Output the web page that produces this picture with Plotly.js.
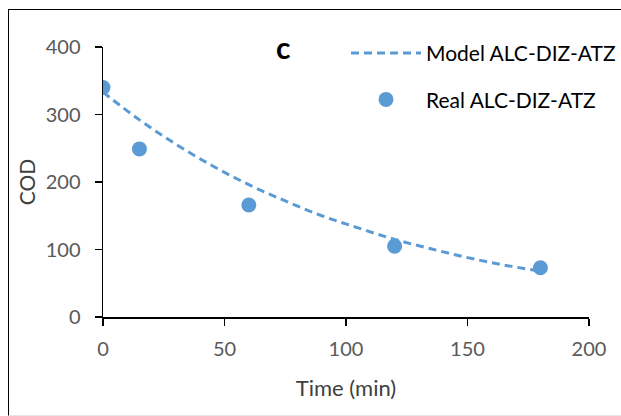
<!DOCTYPE html>
<html><head><meta charset="utf-8">
<script src="https://cdn.plot.ly/plotly-3.0.1.min.js"></script>
<style>body{margin:0;padding:0;background:#fff;overflow:hidden}
#frame{position:absolute;left:8px;top:9px;width:640px;height:405px;border:1.5px solid #000;border-bottom-color:#e6e6e6;pointer-events:none}
#chart{position:absolute;left:0;top:0;width:621px;height:416px}</style>
</head><body>
<div id="chart"></div><div id="frame"></div>
<script>
const realTime = [0, 15, 60, 120, 180];
const realCOD = [340, 249, 166, 105, 73];
const modelTime = [0, 15, 30, 45, 60, 75, 90, 105, 120, 135, 150, 165, 180];
const modelCOD = [333, 292, 256, 224, 196, 172, 150, 132, 115, 101, 88, 77, 68];
const xTicks = [0, 50, 100, 150, 200];
const yTicks = [0, 100, 200, 300, 400];
const blue = '#5B9BD5';
const F = 'Lato, "Liberation Sans", sans-serif';
const traces = [
  {x: modelTime, y: modelCOD, mode: 'lines', name: 'Model ALC-DIZ-ATZ', legendgroup: 'a',
   line: {color: blue, width: 3, dash: '8px,5px', shape: 'spline'}},
  {x: realTime, y: realCOD, mode: 'markers', name: 'Real ALC-DIZ-ATZ', legendgroup: 'b',
   marker: {color: blue, size: 15}}
];
const layout = {
  width: 621, height: 416,
  margin: {l: 103, r: 32, t: 47, b: 99, autoexpand: false},
  paper_bgcolor: '#fff', plot_bgcolor: '#fff',
  font: {family: F, color: '#595959', size: 20},
  showlegend: true,
  legend: {x: 0.5, xanchor: 'left', y: 1.052, yanchor: 'top',
    bgcolor: 'rgba(0,0,0,0)', font: {family: F, color: '#000', size: 21}, itemwidth: 70, tracegroupgap: 16},
  xaxis: {range: [0, 200], tickvals: xTicks, ticktext: xTicks.map(String), showgrid: false, zeroline: false,
    showline: true, linecolor: '#000', linewidth: 1.5, ticks: 'outside', ticklen: 7, tickcolor: '#000', tickwidth: 1.5,
    ticklabelstandoff: 6,
    title: {text: 'Time (min)', font: {family: F, color: '#404040', size: 22}, standoff: 22}, fixedrange: true},
  yaxis: {range: [0, 400], tickvals: yTicks, ticktext: yTicks.map(String), showgrid: false, zeroline: false,
    showline: true, linecolor: '#000', linewidth: 1.5, ticks: 'outside', ticklen: 7, tickcolor: '#000', tickwidth: 1.5,
    ticklabelstandoff: 10,
    title: {text: 'COD', font: {family: F, color: '#404040', size: 21}, standoff: 4}, fixedrange: true},
  annotations: [{text: '<b>c</b>', xref: 'paper', yref: 'paper', x: 0.371, y: 1.0, xanchor: 'center', yanchor: 'middle',
    showarrow: false, font: {family: F, color: '#000', size: 30}}]
};
Plotly.newPlot('chart', traces, layout, {displayModeBar: false, staticPlot: true});
</script></body></html>
